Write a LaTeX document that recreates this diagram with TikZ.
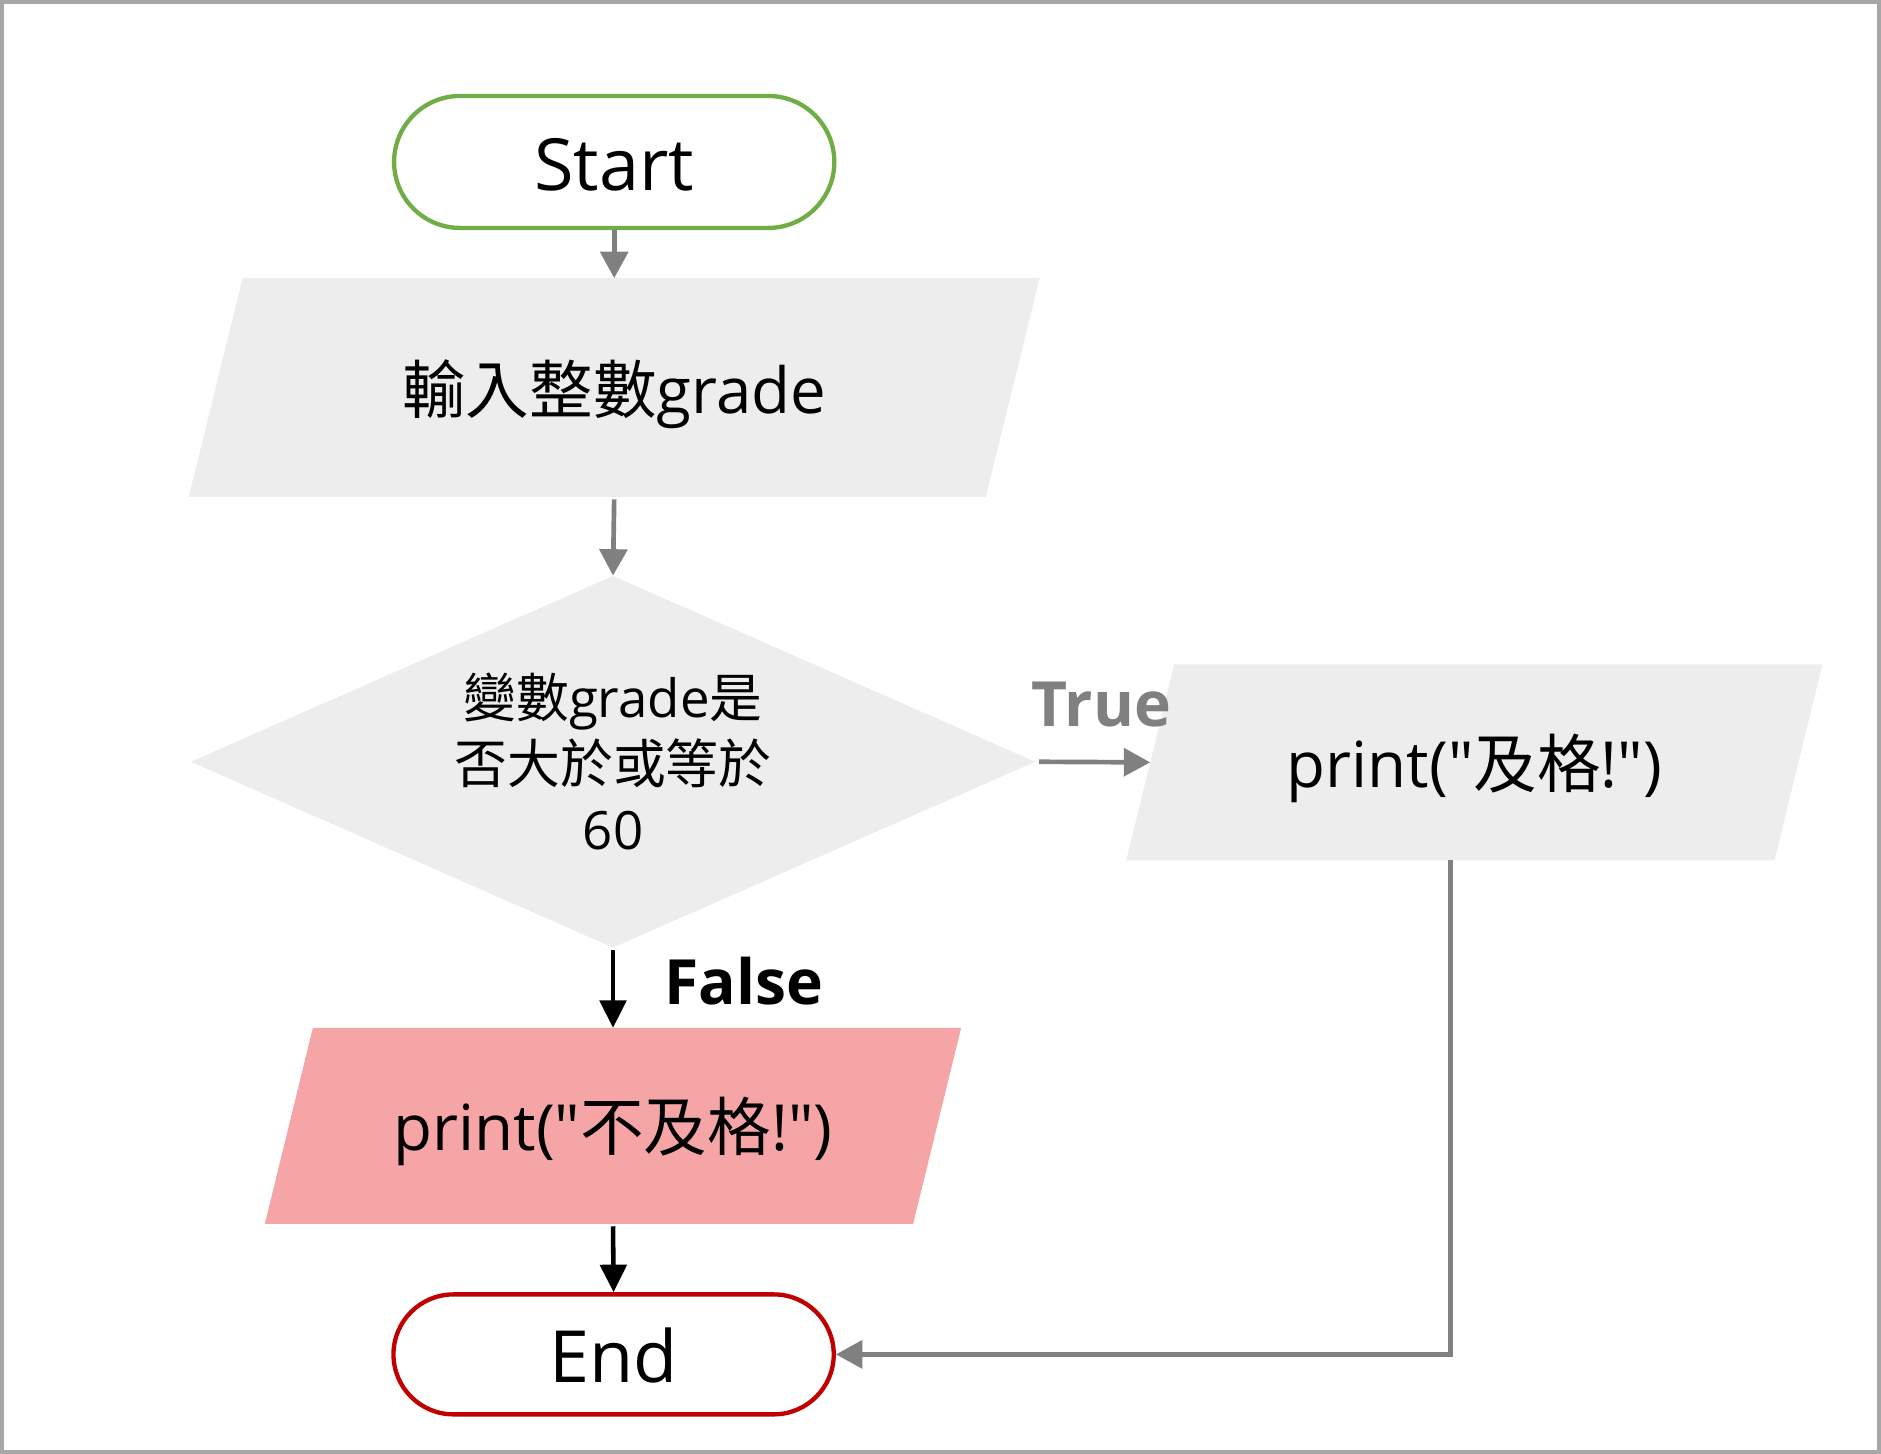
\documentclass[tikz,border=0pt]{standalone}
\usepackage{fontspec}
\setmainfont{Open Sans}[Ligatures=TeXOff]
\newfontfamily\cjk{Noto Sans CJK TC}
\usetikzlibrary{arrows.meta,shapes.geometric,backgrounds}
\definecolor{startgreen}{HTML}{70AD47}
\definecolor{endred}{HTML}{C00000}
\definecolor{lngray}{HTML}{808080}
\definecolor{boxgray}{HTML}{EDEDED}
\definecolor{boxpink}{HTML}{F5A5A5}
\definecolor{framegray}{HTML}{A6A6A6}
\newcommand{\lowertext}[2]{\raisebox{-#1}[\height][\depth]{#2}}
\tikzset{
  term/.style={rectangle, draw, line width=3.6pt, fill=white, minimum width=367pt, inner sep=0pt,
    font=\fontsize{60}{70}\selectfont},
  iobox/.style={rectangle, inner sep=0pt, minimum height=163pt, minimum width=540pt,
    font=\fontsize{53}{60}\selectfont},
  decbox/.style={diamond, fill=boxgray, inner sep=0pt, shape aspect=2.27,
    minimum width=704pt, minimum height=310pt, align=center,
    font=\fontsize{44}{55}\selectfont},
  garrow/.style={draw=lngray, line width=3.9pt, -{Triangle[length=22pt,width=23pt]}},
  barrow/.style={draw=black, line width=3.8pt, -{Triangle[length=23pt,width=22pt]}},
  lbl/.style={font=\bfseries\fontsize{52}{60}\selectfont, inner sep=0pt},
}
\begin{document}
\begin{tikzpicture}[x=1pt,y=-1pt]
\useasboundingbox (0,0) rectangle (1568,1212);
\draw[framegray, line width=3pt] (1.5,1.5) rectangle (1566.5,1210.5);

\node[term, draw=startgreen, minimum height=110pt, rounded corners=55pt] (start) at (512,135) {\lowertext{2pt}{Start}};
\node[iobox, minimum width=664pt, minimum height=182pt] (inp) at (512,323) {\lowertext{6pt}{{\cjk 輸入整數}grade}};
\node[decbox] (dec) at (511,635) {{\cjk 變數}grade{\cjk 是}\\{\cjk 否大於或等於}\\60};
\node[iobox] (rio) at (1229,635.5) {\lowertext{5pt}{print("{\cjk 及格}!")}};
\node[iobox] (pio) at (511,938.5) {\lowertext{5pt}{print("{\cjk 不及格}!")}};
\node[term, draw=endred, minimum height=100pt, rounded corners=50pt] (endn) at (511.5,1129) {\lowertext{1pt}{End}};

\node[lbl, text=lngray, anchor=base] (tlab) at (918,606) {True};
\node[lbl, text=black, anchor=base] (flab) at (620,837) {False};

\begin{scope}[on background layer]
  \fill[boxgray] ([xshift=22.5pt]inp.north west) -- ([xshift=22.5pt]inp.north east)
     -- ([xshift=-22.5pt]inp.south east) -- ([xshift=-22.5pt]inp.south west) -- cycle;
  \fill[boxgray] ([xshift=20pt]rio.north west) -- ([xshift=20pt]rio.north east)
     -- ([xshift=-20pt]rio.south east) -- ([xshift=-20pt]rio.south west) -- cycle;
  \fill[boxpink] ([xshift=20pt]pio.north west) -- ([xshift=20pt]pio.north east)
     -- ([xshift=-20pt]pio.south east) -- ([xshift=-20pt]pio.south west) -- cycle;
\end{scope}

\draw[garrow] (start.south) -- (inp.north);
\draw[garrow, shorten <=2pt] (inp.south) -- (dec.north);
\draw[garrow, shorten <=3pt] (dec.east) -- (rio.west);
\draw[barrow, shorten <=2pt] (dec.south) -- (pio.north);
\draw[barrow, shorten <=2pt] (pio.south) -- (endn.north);
\draw[garrow] ([xshift=-20pt]rio.south) |- (endn.east);
\end{tikzpicture}
\end{document}
